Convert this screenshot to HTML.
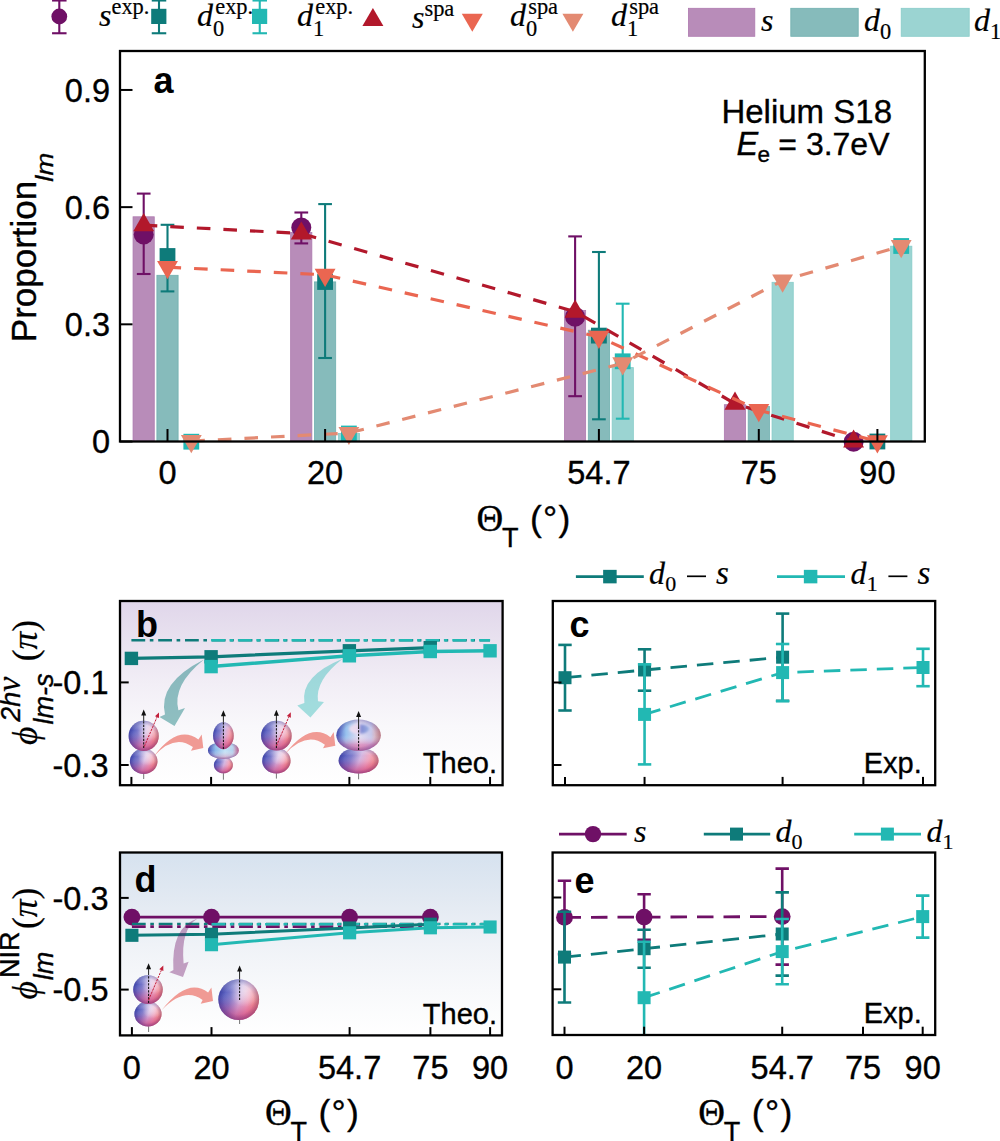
<!DOCTYPE html>
<html><head><meta charset="utf-8"><style>
html,body{margin:0;padding:0;background:#fff;overflow:hidden;}
svg{display:block;}
text{font-family:"Liberation Sans",sans-serif;fill:#000;stroke:#000;stroke-width:0.35px;}
.m,.s{font-family:"Liberation Serif",serif;}
.b{font-weight:bold;stroke:none;}
.m{stroke-width:0.2px;}
</style></head><body>
<svg width="1000" height="1141" viewBox="0 0 1000 1141">
<defs>
<linearGradient id="bgb" x1="0" y1="0" x2="0" y2="1">
 <stop offset="0" stop-color="#E0D6EA"/><stop offset="0.2" stop-color="#E8E1EF"/><stop offset="0.45" stop-color="#F2EEF6"/><stop offset="0.68" stop-color="#F9F8FB"/><stop offset="1" stop-color="#FFFFFF"/>
</linearGradient>
<linearGradient id="bgd" x1="0" y1="0" x2="0" y2="1">
 <stop offset="0" stop-color="#D6E2EF"/><stop offset="0.25" stop-color="#E2E9F2"/><stop offset="0.5" stop-color="#EFF2F7"/><stop offset="0.75" stop-color="#F8F9FB"/><stop offset="1" stop-color="#FFFFFF"/>
</linearGradient>
<linearGradient id="sph" x1="0" y1="0.25" x2="1" y2="0.75">
 <stop offset="0" stop-color="#4A52B4"/><stop offset="0.4" stop-color="#A77CC0"/><stop offset="0.72" stop-color="#E2668A"/><stop offset="1" stop-color="#EE8A6A"/>
</linearGradient>
<radialGradient id="hl" cx="0.64" cy="0.32" r="0.5">
 <stop offset="0" stop-color="#FFFFFF" stop-opacity="0.85"/><stop offset="0.6" stop-color="#FFFFFF" stop-opacity="0.25"/><stop offset="1" stop-color="#FFFFFF" stop-opacity="0"/>
</radialGradient>
<radialGradient id="tor" cx="0.5" cy="0.35" r="0.6">
 <stop offset="0" stop-color="#E8F2FA"/><stop offset="0.5" stop-color="#A8CFEA"/><stop offset="1" stop-color="#5068C0"/>
</radialGradient>
<radialGradient id="hole" cx="0.5" cy="0.5" r="0.5">
 <stop offset="0" stop-color="#F3D3E3"/><stop offset="1" stop-color="#F3D3E3" stop-opacity="0"/>
</radialGradient>

<linearGradient id="gH" x1="0" y1="0.38" x2="1" y2="0.62">
 <stop offset="0" stop-color="#3C4AB6"/><stop offset="0.3" stop-color="#7E7CCC"/><stop offset="0.52" stop-color="#D2B6E2"/><stop offset="0.72" stop-color="#F0A8C0"/><stop offset="1" stop-color="#EE7A6C"/>
</linearGradient>
<linearGradient id="gV" x1="0" y1="0" x2="0" y2="1">
 <stop offset="0" stop-color="#C8DCF6" stop-opacity="0.5"/><stop offset="0.32" stop-color="#FFFFFF" stop-opacity="0"/><stop offset="0.6" stop-color="#D02870" stop-opacity="0.15"/><stop offset="1" stop-color="#B8185C" stop-opacity="0.65"/>
</linearGradient>
<radialGradient id="gE" cx="0.5" cy="0.5" r="0.5">
 <stop offset="0.72" stop-color="#3C2C80" stop-opacity="0"/><stop offset="1" stop-color="#3C2C80" stop-opacity="0.3"/>
</radialGradient>
<radialGradient id="hlt" cx="0.66" cy="0.3" r="0.38">
 <stop offset="0" stop-color="#FFFFFF" stop-opacity="0.5"/><stop offset="1" stop-color="#FFFFFF" stop-opacity="0"/>
</radialGradient>
<linearGradient id="tH" x1="0" y1="0" x2="1" y2="0">
 <stop offset="0" stop-color="#4656BE"/><stop offset="0.25" stop-color="#8CBCEA"/><stop offset="0.55" stop-color="#C4E2F6"/><stop offset="0.8" stop-color="#B4D2EE"/><stop offset="1" stop-color="#E47494"/>
</linearGradient>
<linearGradient id="tV" x1="0" y1="0" x2="0" y2="1">
 <stop offset="0" stop-color="#FFFFFF" stop-opacity="0.2"/><stop offset="0.5" stop-color="#FFFFFF" stop-opacity="0"/><stop offset="1" stop-color="#D85088" stop-opacity="0.55"/>
</linearGradient>
<linearGradient id="uH" x1="0" y1="0" x2="1" y2="0">
 <stop offset="0" stop-color="#4A58C0"/><stop offset="0.22" stop-color="#98C2EE"/><stop offset="0.5" stop-color="#E4DEF2"/><stop offset="0.78" stop-color="#C6C8EC"/><stop offset="1" stop-color="#EC9C8C"/>
</linearGradient>
<linearGradient id="uV" x1="0" y1="0" x2="0" y2="1">
 <stop offset="0" stop-color="#FFFFFF" stop-opacity="0"/><stop offset="0.5" stop-color="#FFFFFF" stop-opacity="0"/><stop offset="0.8" stop-color="#D84088" stop-opacity="0.42"/><stop offset="1" stop-color="#C03078" stop-opacity="0.62"/>
</linearGradient>
<filter id="blur1" x="-30%" y="-30%" width="160%" height="160%"><feGaussianBlur stdDeviation="1.1"/></filter>
<linearGradient id="dim" x1="0" y1="0" x2="1" y2="0">
 <stop offset="0" stop-color="#F7E2F0"/><stop offset="0.45" stop-color="#F0D8EE"/><stop offset="0.6" stop-color="#6C78CC"/><stop offset="1" stop-color="#8CA8E0"/>
</linearGradient>
<clipPath id="clipb"><rect x="120" y="601" width="382.6" height="184.2"/></clipPath>
<clipPath id="clipc"><rect x="552.8" y="601" width="382.4" height="184.2"/></clipPath>
<clipPath id="clipd"><rect x="120" y="852.5" width="382" height="182.9"/></clipPath>
<clipPath id="clipe"><rect x="552.6" y="852.5" width="382.6" height="182.5"/></clipPath>
</defs>
<rect x="133.05" y="216.8" width="21.2" height="224.7" fill="#B88CB9" stroke="#AE7AAF" stroke-width="0.8"/>
<rect x="156.9" y="275.3" width="21.2" height="166.2" fill="#86BBBB" stroke="#6FB0AF" stroke-width="0.8"/>
<rect x="290.65" y="232.4" width="21.2" height="209.1" fill="#B88CB9" stroke="#AE7AAF" stroke-width="0.8"/>
<rect x="314.5" y="281.9" width="21.2" height="159.6" fill="#86BBBB" stroke="#6FB0AF" stroke-width="0.8"/>
<rect x="338.35" y="433.4" width="21.2" height="8.1" fill="#9BD4D2" stroke="#88CCC9" stroke-width="0.8"/>
<rect x="564.45" y="310.4" width="21.2" height="131.1" fill="#B88CB9" stroke="#AE7AAF" stroke-width="0.8"/>
<rect x="588.3" y="330.2" width="21.2" height="111.3" fill="#86BBBB" stroke="#6FB0AF" stroke-width="0.8"/>
<rect x="612.15" y="367.6" width="21.2" height="73.9" fill="#9BD4D2" stroke="#88CCC9" stroke-width="0.8"/>
<rect x="724.35" y="404.7" width="21.2" height="36.8" fill="#B88CB9" stroke="#AE7AAF" stroke-width="0.8"/>
<rect x="748.2" y="406.4" width="21.2" height="35.1" fill="#86BBBB" stroke="#6FB0AF" stroke-width="0.8"/>
<rect x="772.05" y="282.3" width="21.2" height="159.2" fill="#9BD4D2" stroke="#88CCC9" stroke-width="0.8"/>
<rect x="890.65" y="246.2" width="21.2" height="195.3" fill="#9BD4D2" stroke="#88CCC9" stroke-width="0.8"/>
<line x1="143.7" y1="193.6" x2="143.7" y2="274" stroke="#6F1066" stroke-width="2.1" />
<line x1="136.85" y1="193.6" x2="150.55" y2="193.6" stroke="#6F1066" stroke-width="2.1" />
<line x1="136.85" y1="274" x2="150.55" y2="274" stroke="#6F1066" stroke-width="2.1" />
<circle cx="143.7" cy="234.4" r="10" fill="#6F1066"/>
<line x1="301.3" y1="212.5" x2="301.3" y2="243.4" stroke="#6F1066" stroke-width="2.1" />
<line x1="294.45" y1="212.5" x2="308.15" y2="212.5" stroke="#6F1066" stroke-width="2.1" />
<line x1="294.45" y1="243.4" x2="308.15" y2="243.4" stroke="#6F1066" stroke-width="2.1" />
<circle cx="301.3" cy="227.5" r="10" fill="#6F1066"/>
<line x1="575.1" y1="236.4" x2="575.1" y2="396.2" stroke="#6F1066" stroke-width="2.1" />
<line x1="568.25" y1="236.4" x2="581.95" y2="236.4" stroke="#6F1066" stroke-width="2.1" />
<line x1="568.25" y1="396.2" x2="581.95" y2="396.2" stroke="#6F1066" stroke-width="2.1" />
<circle cx="575.1" cy="316.7" r="10" fill="#6F1066"/>
<circle cx="853.6" cy="441.8" r="10" fill="#6F1066"/>
<line x1="167.5" y1="224.8" x2="167.5" y2="291.4" stroke="#0E7B7A" stroke-width="2.1" />
<line x1="160.65" y1="224.8" x2="174.35" y2="224.8" stroke="#0E7B7A" stroke-width="2.1" />
<line x1="160.65" y1="291.4" x2="174.35" y2="291.4" stroke="#0E7B7A" stroke-width="2.1" />
<rect x="159.6" y="248.1" width="15.8" height="15.8" fill="#0E7B7A"/>
<line x1="325.1" y1="204.1" x2="325.1" y2="358" stroke="#0E7B7A" stroke-width="2.1" />
<line x1="318.25" y1="204.1" x2="331.95" y2="204.1" stroke="#0E7B7A" stroke-width="2.1" />
<line x1="318.25" y1="358" x2="331.95" y2="358" stroke="#0E7B7A" stroke-width="2.1" />
<rect x="317.2" y="274.1" width="15.8" height="15.8" fill="#0E7B7A"/>
<line x1="598.9" y1="252" x2="598.9" y2="419.3" stroke="#0E7B7A" stroke-width="2.1" />
<line x1="592.05" y1="252" x2="605.75" y2="252" stroke="#0E7B7A" stroke-width="2.1" />
<line x1="592.05" y1="419.3" x2="605.75" y2="419.3" stroke="#0E7B7A" stroke-width="2.1" />
<rect x="591" y="327.7" width="15.8" height="15.8" fill="#0E7B7A"/>
<rect x="869.5" y="433.6" width="15.8" height="15.8" fill="#0E7B7A"/>
<rect x="183.4" y="433.8" width="15.8" height="15.8" fill="#22B8B3"/>
<rect x="341" y="425.6" width="15.8" height="15.8" fill="#22B8B3"/>
<line x1="622.7" y1="303.7" x2="622.7" y2="418.7" stroke="#22B8B3" stroke-width="2.1" />
<line x1="615.85" y1="303.7" x2="629.55" y2="303.7" stroke="#22B8B3" stroke-width="2.1" />
<line x1="615.85" y1="418.7" x2="629.55" y2="418.7" stroke="#22B8B3" stroke-width="2.1" />
<rect x="614.8" y="353.4" width="15.8" height="15.8" fill="#22B8B3"/>
<rect x="893.3" y="238.1" width="15.8" height="15.8" fill="#22B8B3"/>
<polyline points="143.7,225.2 301.3,233.5 575.1,311.6 735,403.6 853.6,441.5" fill="none" stroke="#B2182B" stroke-width="3.2" stroke-dasharray="13.6 13" stroke-linejoin="round" />
<polygon points="143.7,213.1 154.15,231.3 133.25,231.3" fill="#B2182B"/>
<polygon points="301.3,221.4 311.75,239.6 290.85,239.6" fill="#B2182B"/>
<polygon points="575.1,299.5 585.55,317.7 564.65,317.7" fill="#B2182B"/>
<polygon points="735,391.5 745.45,409.7 724.55,409.7" fill="#B2182B"/>
<polygon points="853.6,429.4 864.05,447.6 843.15,447.6" fill="#B2182B"/>
<polyline points="167.5,267.2 325.1,274.8 598.9,336.9 758.8,410.2 877.4,441.4" fill="none" stroke="#EA6651" stroke-width="3.2" stroke-dasharray="13.6 13" stroke-linejoin="round" />
<polygon points="167.5,279.3 177.95,261.1 157.05,261.1" fill="#EA6651"/>
<polygon points="325.1,286.9 335.55,268.7 314.65,268.7" fill="#EA6651"/>
<polygon points="598.9,349 609.35,330.8 588.45,330.8" fill="#EA6651"/>
<polygon points="758.8,422.3 769.25,404.1 748.35,404.1" fill="#EA6651"/>
<polygon points="877.4,453.5 887.85,435.3 866.95,435.3" fill="#EA6651"/>
<polyline points="191.3,441.1 348.9,433 622.7,363.4 782.6,280.6 901.2,246.1" fill="none" stroke="#E38A72" stroke-width="3.2" stroke-dasharray="13.6 13" stroke-linejoin="round" />
<polygon points="191.3,453.2 201.75,435 180.85,435" fill="#E38A72"/>
<polygon points="348.9,445.1 359.35,426.9 338.45,426.9" fill="#E38A72"/>
<polygon points="622.7,375.5 633.15,357.3 612.25,357.3" fill="#E38A72"/>
<polygon points="782.6,292.7 793.05,274.5 772.15,274.5" fill="#E38A72"/>
<polygon points="901.2,258.2 911.65,240 890.75,240" fill="#E38A72"/>
<rect x="120" y="51" width="804.8" height="390.5" fill="none" stroke="#000" stroke-width="2.3"/>
<line x1="120" y1="89.96" x2="132.5" y2="89.96" stroke="#000" stroke-width="2" />
<text x="110" y="101.76" font-size="32.5" text-anchor="end" >0.9</text>
<line x1="120" y1="207.14" x2="132.5" y2="207.14" stroke="#000" stroke-width="2" />
<text x="110" y="218.94" font-size="32.5" text-anchor="end" >0.6</text>
<line x1="120" y1="324.32" x2="132.5" y2="324.32" stroke="#000" stroke-width="2" />
<text x="110" y="336.12" font-size="32.5" text-anchor="end" >0.3</text>
<line x1="120" y1="441.5" x2="132.5" y2="441.5" stroke="#000" stroke-width="2" />
<text x="110" y="453.3" font-size="32.5" text-anchor="end" >0</text>
<line x1="167.5" y1="441.5" x2="167.5" y2="429" stroke="#000" stroke-width="2" />
<text x="167.5" y="484.3" font-size="32.5" text-anchor="middle" >0</text>
<line x1="325.1" y1="441.5" x2="325.1" y2="429" stroke="#000" stroke-width="2" />
<text x="325.1" y="484.3" font-size="32.5" text-anchor="middle" >20</text>
<line x1="598.9" y1="441.5" x2="598.9" y2="429" stroke="#000" stroke-width="2" />
<text x="598.9" y="484.3" font-size="32.5" text-anchor="middle" >54.7</text>
<line x1="758.8" y1="441.5" x2="758.8" y2="429" stroke="#000" stroke-width="2" />
<text x="758.8" y="484.3" font-size="32.5" text-anchor="middle" >75</text>
<line x1="877.4" y1="441.5" x2="877.4" y2="429" stroke="#000" stroke-width="2" />
<text x="877.4" y="484.3" font-size="32.5" text-anchor="middle" >90</text>
<text x="153.5" y="93" font-size="36" class="b" >a</text>
<text x="892" y="122.8" font-size="33" text-anchor="end" >Helium S18</text>
<text x="889.5" y="154.8" font-size="32" text-anchor="end">= 3.7eV</text><text x="736.5" y="154.8" font-size="32.5" font-style="italic">E</text><text x="757.5" y="162" font-size="22.5">e</text>
<g transform="translate(36.2,342.2) rotate(-90)"><text x="0" y="0" font-size="35">Proportion</text><text x="160.5" y="17" font-size="24.5" font-style="italic" textLength="29" lengthAdjust="spacingAndGlyphs">lm</text></g>
<text x="476.5" y="530.6" font-size="37" class="s">&#920;</text><text x="502.0" y="547.1" font-size="27">T</text><text x="530.0" y="530.6" font-size="35.5" letter-spacing="1.3">(&#176;)</text>
<line x1="59.3" y1="0.5" x2="59.3" y2="33.25" stroke="#6F1066" stroke-width="2.1" />
<line x1="52.05" y1="0.5" x2="66.55" y2="0.5" stroke="#6F1066" stroke-width="2.1" />
<line x1="52.05" y1="33.25" x2="66.55" y2="33.25" stroke="#6F1066" stroke-width="2.1" />
<circle cx="59.3" cy="16.5" r="7.9" fill="#6F1066"/>
<line x1="159" y1="0.5" x2="159" y2="33.25" stroke="#0E7B7A" stroke-width="2.1" />
<line x1="151.75" y1="0.5" x2="166.25" y2="0.5" stroke="#0E7B7A" stroke-width="2.1" />
<line x1="151.75" y1="33.25" x2="166.25" y2="33.25" stroke="#0E7B7A" stroke-width="2.1" />
<rect x="151.2" y="8.8" width="15.2" height="15.2" fill="#0E7B7A"/>
<line x1="259.75" y1="0.5" x2="259.75" y2="33.25" stroke="#22B8B3" stroke-width="2.1" />
<line x1="252.5" y1="0.5" x2="267" y2="0.5" stroke="#22B8B3" stroke-width="2.1" />
<line x1="252.5" y1="33.25" x2="267" y2="33.25" stroke="#22B8B3" stroke-width="2.1" />
<rect x="252" y="8.8" width="15.2" height="15.2" fill="#22B8B3"/>
<polygon points="372.9,7.9 383.4,25.9 362.4,25.9" fill="#B2182B"/>
<polygon points="472.3,31.75 482.8,13.75 461.8,13.75" fill="#EA6651"/>
<polygon points="572.9,31.75 583.4,13.75 562.4,13.75" fill="#E38A72"/>
<rect x="688.4" y="8.3" width="66.4" height="28" fill="#B88CB9" stroke="#AE7AAF" stroke-width="0.8"/>
<rect x="790.8" y="8.3" width="67.4" height="28" fill="#86BBBB" stroke="#6FB0AF" stroke-width="0.8"/>
<rect x="901.2" y="8.3" width="68" height="28" fill="#9BD4D2" stroke="#88CCC9" stroke-width="0.8"/>
<text x="99" y="26" font-size="32" class="m"><tspan font-style="italic">s</tspan><tspan font-size="22.4" dy="-12">exp.</tspan></text>
<text x="197" y="26" font-size="32" class="m"><tspan font-style="italic">d</tspan><tspan font-size="22.4" dy="10">0</tspan><tspan font-size="22.4" dx="-9" dy="-22">exp.</tspan></text>
<text x="297" y="26" font-size="32" class="m"><tspan font-style="italic">d</tspan><tspan font-size="22.4" dy="10">1</tspan><tspan font-size="22.4" dx="-9" dy="-22">exp.</tspan></text>
<text x="412" y="27.5" font-size="32" class="m"><tspan font-style="italic">s</tspan><tspan font-size="22.4" dy="-12">spa</tspan></text>
<text x="510" y="26" font-size="32" class="m"><tspan font-style="italic">d</tspan><tspan font-size="22.4" dy="10">0</tspan><tspan font-size="22.4" dx="-9" dy="-22">spa</tspan></text>
<text x="611" y="26" font-size="32" class="m"><tspan font-style="italic">d</tspan><tspan font-size="22.4" dy="10">1</tspan><tspan font-size="22.4" dx="-9" dy="-22">spa</tspan></text>
<text x="761" y="30.7" font-size="32" class="m"><tspan font-style="italic">s</tspan></text>
<text x="864" y="30.5" font-size="32" class="m"><tspan font-style="italic">d</tspan><tspan font-size="22.4" dy="8">0</tspan></text>
<text x="974" y="30.5" font-size="32" class="m"><tspan font-style="italic">d</tspan><tspan font-size="22.4" dy="8">1</tspan></text>
<rect x="120" y="601" width="382.6" height="184.2" fill="url(#bgb)"/>
<polyline points="131.4,640.3 490.05,640.3" fill="none" stroke="#0E7B7A" stroke-width="2.6" stroke-dasharray="13.8 4.6 3.6 4.8" stroke-linejoin="round" />
<polyline points="211.1,640.3 490.05,640.3" fill="none" stroke="#22B8B3" stroke-width="2.6" stroke-dasharray="13.8 4.6 3.6 4.8" stroke-linejoin="round" />
<polyline points="131.4,658.4 211.1,656.8 349.38,650.8 430.27,647.7" fill="none" stroke="#0E7B7A" stroke-width="3.3" stroke-linejoin="round" />
<rect x="124.7" y="651.7" width="13.4" height="13.4" fill="#0E7B7A"/>
<rect x="204.4" y="650.1" width="13.4" height="13.4" fill="#0E7B7A"/>
<rect x="342.68" y="644.1" width="13.4" height="13.4" fill="#0E7B7A"/>
<rect x="423.57" y="641" width="13.4" height="13.4" fill="#0E7B7A"/>
<polyline points="211.1,666.6 349.38,655.8 430.27,651.5 490.05,650.8" fill="none" stroke="#22B8B3" stroke-width="3.5" stroke-linejoin="round" />
<rect x="204.4" y="659.9" width="13.4" height="13.4" fill="#22B8B3"/>
<rect x="342.68" y="649.1" width="13.4" height="13.4" fill="#22B8B3"/>
<rect x="423.57" y="644.8" width="13.4" height="13.4" fill="#22B8B3"/>
<rect x="483.35" y="644.1" width="13.4" height="13.4" fill="#22B8B3"/>
<g clip-path="url(#clipb)">
<path d="M 204.00 659.50 Q 157.50 683.00 165.00 714.50 L 159.50 717.00 L 174.50 726.10 L 185.00 707.90 L 178.40 710.30 Q 172.00 685.10 204.00 659.50 Z" fill="#0E7B7A" fill-opacity="0.45"/>
<path d="M 342.70 658.70 Q 300.00 676.00 304.40 702.90 L 297.30 705.50 L 310.40 717.40 L 324.00 702.00 L 318.00 701.20 Q 315.00 680.00 342.70 658.70 Z" fill="#22B8B3" fill-opacity="0.4"/>
<line x1="143.70" y1="779.00" x2="143.70" y2="748.00" stroke="#666" stroke-width="0.9"/>
<ellipse cx="143.70" cy="761.30" rx="13.80" ry="12.60" fill="url(#gH)"/>
<ellipse cx="143.70" cy="761.30" rx="13.80" ry="12.60" fill="url(#gV)"/>
<ellipse cx="143.70" cy="761.30" rx="13.80" ry="12.60" fill="url(#hlt)"/>
<ellipse cx="143.70" cy="761.30" rx="13.80" ry="12.60" fill="url(#gE)"/>
<ellipse cx="143.70" cy="735.90" rx="15.10" ry="15.10" fill="url(#gH)"/>
<ellipse cx="143.70" cy="735.90" rx="15.10" ry="15.10" fill="url(#gV)"/>
<ellipse cx="143.70" cy="735.90" rx="15.10" ry="15.10" fill="url(#hlt)"/>
<ellipse cx="143.70" cy="735.90" rx="15.10" ry="15.10" fill="url(#gE)"/>
<line x1="143.70" y1="748.00" x2="143.70" y2="721.00" stroke="#111" stroke-width="1.05" stroke-dasharray="2.2 1.3"/>
<line x1="143.70" y1="721.00" x2="143.70" y2="714.60" stroke="#222" stroke-width="1"/>
<polygon points="143.70,709.60 146.20,715.60 141.20,715.60" fill="#111"/>
<line x1="144.30" y1="746.50" x2="157.02" y2="717.09" stroke="#C21F3A" stroke-width="1" stroke-dasharray="2.4 1"/>
<polygon points="159.00,712.50 159.04,717.96 155.00,716.22" fill="#C21F3A"/>
<line x1="223.40" y1="779.70" x2="223.40" y2="760.00" stroke="#666" stroke-width="0.9"/>
<path d="M 223.40 756.70 C 228.65 756.70 232.90 760.42 232.90 765.00 C 232.90 769.98 227.96 773.30 223.40 773.30 C 218.84 773.30 213.90 769.98 213.90 765.00 C 213.90 760.42 218.15 756.70 223.40 756.70 Z" fill="url(#gH)"/>
<path d="M 223.40 756.70 C 228.65 756.70 232.90 760.42 232.90 765.00 C 232.90 769.98 227.96 773.30 223.40 773.30 C 218.84 773.30 213.90 769.98 213.90 765.00 C 213.90 760.42 218.15 756.70 223.40 756.70 Z" fill="url(#gV)"/>
<path d="M 223.40 756.70 C 228.65 756.70 232.90 760.42 232.90 765.00 C 232.90 769.98 227.96 773.30 223.40 773.30 C 218.84 773.30 213.90 769.98 213.90 765.00 C 213.90 760.42 218.15 756.70 223.40 756.70 Z" fill="url(#gE)"/>
<ellipse cx="223.40" cy="750.40" rx="15.40" ry="8.60" fill="url(#tH)"/>
<ellipse cx="223.40" cy="750.40" rx="15.40" ry="8.60" fill="url(#tV)"/>
<ellipse cx="223.40" cy="750.40" rx="15.40" ry="8.60" fill="url(#gE)"/>
<path d="M 223.40 722.20 C 229.12 722.20 233.75 728.24 233.75 735.70 C 233.75 743.80 227.75 749.20 223.40 749.20 C 219.05 749.20 213.05 743.80 213.05 735.70 C 213.05 728.24 217.68 722.20 223.40 722.20 Z" fill="url(#gH)"/>
<path d="M 223.40 722.20 C 229.12 722.20 233.75 728.24 233.75 735.70 C 233.75 743.80 227.75 749.20 223.40 749.20 C 219.05 749.20 213.05 743.80 213.05 735.70 C 213.05 728.24 217.68 722.20 223.40 722.20 Z" fill="url(#gV)"/>
<path d="M 223.40 722.20 C 229.12 722.20 233.75 728.24 233.75 735.70 C 233.75 743.80 227.75 749.20 223.40 749.20 C 219.05 749.20 213.05 743.80 213.05 735.70 C 213.05 728.24 217.68 722.20 223.40 722.20 Z" fill="url(#gE)"/>
<line x1="223.40" y1="749.00" x2="223.40" y2="722.50" stroke="#111" stroke-width="1.05" stroke-dasharray="2.2 1.3"/>
<line x1="223.40" y1="722.50" x2="223.40" y2="715.30" stroke="#222" stroke-width="1"/>
<polygon points="223.40,710.30 225.90,716.30 220.90,716.30" fill="#111"/>
<line x1="276.40" y1="778.60" x2="276.40" y2="748.00" stroke="#666" stroke-width="0.9"/>
<ellipse cx="276.40" cy="760.80" rx="14.20" ry="12.70" fill="url(#gH)"/>
<ellipse cx="276.40" cy="760.80" rx="14.20" ry="12.70" fill="url(#gV)"/>
<ellipse cx="276.40" cy="760.80" rx="14.20" ry="12.70" fill="url(#hlt)"/>
<ellipse cx="276.40" cy="760.80" rx="14.20" ry="12.70" fill="url(#gE)"/>
<ellipse cx="276.40" cy="735.70" rx="15.30" ry="14.90" fill="url(#gH)"/>
<ellipse cx="276.40" cy="735.70" rx="15.30" ry="14.90" fill="url(#gV)"/>
<ellipse cx="276.40" cy="735.70" rx="15.30" ry="14.90" fill="url(#hlt)"/>
<ellipse cx="276.40" cy="735.70" rx="15.30" ry="14.90" fill="url(#gE)"/>
<line x1="276.40" y1="748.00" x2="276.40" y2="721.00" stroke="#111" stroke-width="1.05" stroke-dasharray="2.2 1.3"/>
<line x1="276.40" y1="721.00" x2="276.40" y2="714.70" stroke="#222" stroke-width="1"/>
<polygon points="276.40,709.70 278.90,715.70 273.90,715.70" fill="#111"/>
<line x1="276.40" y1="746.00" x2="288.84" y2="716.90" stroke="#C21F3A" stroke-width="1" stroke-dasharray="2.4 1"/>
<polygon points="290.80,712.30 290.86,717.76 286.81,716.03" fill="#C21F3A"/>
<line x1="358.60" y1="779.30" x2="358.60" y2="760.00" stroke="#666" stroke-width="0.9"/>
<ellipse cx="358.60" cy="760.50" rx="20.00" ry="13.10" fill="url(#gH)"/>
<ellipse cx="358.60" cy="760.50" rx="20.00" ry="13.10" fill="url(#gV)"/>
<ellipse cx="358.60" cy="760.50" rx="20.00" ry="13.10" fill="url(#gE)"/>
<ellipse cx="358.60" cy="735.20" rx="22.25" ry="15.75" fill="url(#uH)"/>
<ellipse cx="358.60" cy="735.20" rx="22.25" ry="15.75" fill="url(#uV)"/>
<ellipse cx="358.60" cy="735.20" rx="22.25" ry="15.75" fill="url(#gE)"/>
<ellipse cx="359.10" cy="729" rx="10" ry="4.8" fill="url(#dim)" opacity="0.8" filter="url(#blur1)"/>
<line x1="358.60" y1="750.00" x2="358.60" y2="727.00" stroke="#111" stroke-width="1.05" stroke-dasharray="2.2 1.3"/>
<line x1="358.60" y1="727.00" x2="358.60" y2="716.00" stroke="#222" stroke-width="1"/>
<polygon points="358.60,711.00 361.10,717.00 356.10,717.00" fill="#111"/>
<path d="M 153.90 756.20 Q 178.00 724.00 198.40 739.60 L 201.70 734.40 L 203.30 748.10 L 191.00 750.70 L 192.90 747.10 Q 174.60 733.35 153.90 756.20 Z" fill="#F09A94"/>
<path d="M 285.20 753.80 Q 310.00 721.60 330.40 737.20 L 333.70 732.00 L 335.30 745.70 L 323.00 748.30 L 324.90 744.70 Q 306.60 730.95 285.20 753.80 Z" fill="#F09A94"/>
</g>
<line x1="565" y1="644.9" x2="565" y2="710.5" stroke="#0E7B7A" stroke-width="2.6" />
<line x1="558.3" y1="644.9" x2="571.7" y2="644.9" stroke="#0E7B7A" stroke-width="2.6" />
<line x1="558.3" y1="710.5" x2="571.7" y2="710.5" stroke="#0E7B7A" stroke-width="2.6" />
<line x1="644.56" y1="649.3" x2="644.56" y2="690.7" stroke="#0E7B7A" stroke-width="2.6" />
<line x1="637.86" y1="649.3" x2="651.26" y2="649.3" stroke="#0E7B7A" stroke-width="2.6" />
<line x1="637.86" y1="690.7" x2="651.26" y2="690.7" stroke="#0E7B7A" stroke-width="2.6" />
<line x1="782.6" y1="613.6" x2="782.6" y2="700.8" stroke="#0E7B7A" stroke-width="2.6" />
<line x1="775.9" y1="613.6" x2="789.3" y2="613.6" stroke="#0E7B7A" stroke-width="2.6" />
<line x1="775.9" y1="700.8" x2="789.3" y2="700.8" stroke="#0E7B7A" stroke-width="2.6" />
<polyline points="565,677.7 644.56,670 782.6,657.2" fill="none" stroke="#0E7B7A" stroke-width="2.8" stroke-dasharray="16.5 10" stroke-linejoin="round" />
<rect x="558.5" y="671.2" width="13" height="13" fill="#0E7B7A"/>
<rect x="638.06" y="663.5" width="13" height="13" fill="#0E7B7A"/>
<rect x="776.1" y="650.7" width="13" height="13" fill="#0E7B7A"/>
<line x1="644.56" y1="664.4" x2="644.56" y2="764.4" stroke="#22B8B3" stroke-width="2.6" />
<line x1="637.86" y1="664.4" x2="651.26" y2="664.4" stroke="#22B8B3" stroke-width="2.6" />
<line x1="637.86" y1="764.4" x2="651.26" y2="764.4" stroke="#22B8B3" stroke-width="2.6" />
<line x1="782.6" y1="644" x2="782.6" y2="701.2" stroke="#22B8B3" stroke-width="2.6" />
<line x1="775.9" y1="644" x2="789.3" y2="644" stroke="#22B8B3" stroke-width="2.6" />
<line x1="775.9" y1="701.2" x2="789.3" y2="701.2" stroke="#22B8B3" stroke-width="2.6" />
<line x1="923.02" y1="648.8" x2="923.02" y2="686.2" stroke="#22B8B3" stroke-width="2.6" />
<line x1="916.32" y1="648.8" x2="929.72" y2="648.8" stroke="#22B8B3" stroke-width="2.6" />
<line x1="916.32" y1="686.2" x2="929.72" y2="686.2" stroke="#22B8B3" stroke-width="2.6" />
<polyline points="644.56,714.4 782.6,672.6 923.02,667.5" fill="none" stroke="#22B8B3" stroke-width="2.8" stroke-dasharray="16.5 10" stroke-linejoin="round" />
<rect x="638.06" y="707.9" width="13" height="13" fill="#22B8B3"/>
<rect x="776.1" y="666.1" width="13" height="13" fill="#22B8B3"/>
<rect x="916.52" y="661" width="13" height="13" fill="#22B8B3"/>
<rect x="120" y="852.5" width="382" height="182.9" fill="url(#bgd)"/>
<polyline points="131.9,917.1 430.4,917.1" fill="none" stroke="#6F1066" stroke-width="2.6" stroke-linejoin="round" />
<circle cx="131.9" cy="917.1" r="8.4" fill="#6F1066"/>
<circle cx="211.5" cy="917.1" r="8.4" fill="#6F1066"/>
<circle cx="349.61" cy="917.1" r="8.4" fill="#6F1066"/>
<circle cx="430.4" cy="917.1" r="8.4" fill="#6F1066"/>
<polyline points="131.9,926.6 430.4,926.6" fill="none" stroke="#6F1066" stroke-width="2.6" stroke-dasharray="13.8 4.6 3.6 4.8" stroke-linejoin="round" />
<polyline points="131.9,923.9 490.1,923.9" fill="none" stroke="#0E7B7A" stroke-width="2.2" stroke-dasharray="13.8 4.6 3.6 4.8" stroke-linejoin="round" />
<polyline points="211.5,924.2 490.1,924.2" fill="none" stroke="#22B8B3" stroke-width="2.4" stroke-dasharray="13.8 4.6 3.6 4.8" stroke-linejoin="round" />
<polyline points="131.9,935.3 211.5,934.3 349.61,928 430.4,924.2" fill="none" stroke="#0E7B7A" stroke-width="3" stroke-linejoin="round" />
<rect x="125.35" y="928.75" width="13.1" height="13.1" fill="#0E7B7A"/>
<rect x="204.95" y="927.75" width="13.1" height="13.1" fill="#0E7B7A"/>
<rect x="343.06" y="921.45" width="13.1" height="13.1" fill="#0E7B7A"/>
<rect x="423.85" y="917.65" width="13.1" height="13.1" fill="#0E7B7A"/>
<polyline points="211.5,944.7 349.61,932.8 430.4,927.8 490.1,927" fill="none" stroke="#22B8B3" stroke-width="3" stroke-linejoin="round" />
<rect x="204.95" y="938.15" width="13.1" height="13.1" fill="#22B8B3"/>
<rect x="343.06" y="926.25" width="13.1" height="13.1" fill="#22B8B3"/>
<rect x="423.85" y="921.25" width="13.1" height="13.1" fill="#22B8B3"/>
<rect x="483.55" y="920.45" width="13.1" height="13.1" fill="#22B8B3"/>
<g clip-path="url(#clipd)">
<path d="M 197.50 918.50 Q 171.00 927.00 173.40 970.00 L 169.35 972.15 L 183.00 977.00 L 188.60 961.65 L 183.60 963.60 Q 180.50 929.00 197.50 918.50 Z" fill="#6F1066" fill-opacity="0.38"/>
<line x1="148.60" y1="1032.00" x2="148.60" y2="1003.00" stroke="#666" stroke-width="0.9"/>
<ellipse cx="148.00" cy="1014.00" rx="13.60" ry="12.40" fill="url(#gH)"/>
<ellipse cx="148.00" cy="1014.00" rx="13.60" ry="12.40" fill="url(#gV)"/>
<ellipse cx="148.00" cy="1014.00" rx="13.60" ry="12.40" fill="url(#hlt)"/>
<ellipse cx="148.00" cy="1014.00" rx="13.60" ry="12.40" fill="url(#gE)"/>
<ellipse cx="148.00" cy="989.60" rx="14.80" ry="14.40" fill="url(#gH)"/>
<ellipse cx="148.00" cy="989.60" rx="14.80" ry="14.40" fill="url(#gV)"/>
<ellipse cx="148.00" cy="989.60" rx="14.80" ry="14.40" fill="url(#hlt)"/>
<ellipse cx="148.00" cy="989.60" rx="14.80" ry="14.40" fill="url(#gE)"/>
<line x1="148.60" y1="1003.00" x2="148.60" y2="975.00" stroke="#111" stroke-width="1.05" stroke-dasharray="2.2 1.3"/>
<line x1="148.60" y1="975.00" x2="148.60" y2="968.20" stroke="#222" stroke-width="1"/>
<polygon points="148.60,963.20 151.10,969.20 146.10,969.20" fill="#111"/>
<line x1="148.60" y1="1000.00" x2="161.34" y2="970.20" stroke="#C21F3A" stroke-width="1" stroke-dasharray="2.4 1"/>
<polygon points="163.30,965.60 163.36,971.06 159.31,969.33" fill="#C21F3A"/>
<line x1="239.60" y1="1024.00" x2="239.60" y2="1000.00" stroke="#666" stroke-width="0.9"/>
<ellipse cx="238.70" cy="999.60" rx="20.40" ry="20.40" fill="url(#gH)"/>
<ellipse cx="238.70" cy="999.60" rx="20.40" ry="20.40" fill="url(#gV)"/>
<ellipse cx="238.70" cy="999.60" rx="20.40" ry="20.40" fill="url(#hlt)"/>
<ellipse cx="238.70" cy="999.60" rx="20.40" ry="20.40" fill="url(#gE)"/>
<line x1="239.60" y1="1000.00" x2="239.60" y2="979.50" stroke="#111" stroke-width="1.05" stroke-dasharray="2.2 1.3"/>
<line x1="239.60" y1="979.50" x2="239.60" y2="970.60" stroke="#222" stroke-width="1"/>
<polygon points="239.60,965.60 242.10,971.60 237.10,971.60" fill="#111"/>
<path d="M 161.65 1010.30 Q 187.70 977.00 208.10 992.60 L 211.40 987.40 L 213.00 1001.10 L 200.70 1003.70 L 202.60 1000.10 Q 184.30 986.35 161.65 1010.30 Z" fill="#F09A94"/>
</g>
<g clip-path="url(#clipe)">
<line x1="564.5" y1="880.7" x2="564.5" y2="954.1" stroke="#6F1066" stroke-width="2.6" />
<line x1="557.8" y1="880.7" x2="571.2" y2="880.7" stroke="#6F1066" stroke-width="2.6" />
<line x1="557.8" y1="954.1" x2="571.2" y2="954.1" stroke="#6F1066" stroke-width="2.6" />
<line x1="644.1" y1="894.3" x2="644.1" y2="939.9" stroke="#6F1066" stroke-width="2.6" />
<line x1="637.4" y1="894.3" x2="650.8" y2="894.3" stroke="#6F1066" stroke-width="2.6" />
<line x1="637.4" y1="939.9" x2="650.8" y2="939.9" stroke="#6F1066" stroke-width="2.6" />
<line x1="782.21" y1="868.6" x2="782.21" y2="964.6" stroke="#6F1066" stroke-width="2.6" />
<line x1="775.51" y1="868.6" x2="788.91" y2="868.6" stroke="#6F1066" stroke-width="2.6" />
<line x1="775.51" y1="964.6" x2="788.91" y2="964.6" stroke="#6F1066" stroke-width="2.6" />
<polyline points="564.5,917.4 644.1,917.1 782.21,916.6" fill="none" stroke="#6F1066" stroke-width="2.8" stroke-dasharray="16.5 10" stroke-linejoin="round" />
<circle cx="564.5" cy="917.4" r="8.4" fill="#6F1066"/>
<circle cx="644.1" cy="917.1" r="8.4" fill="#6F1066"/>
<circle cx="782.21" cy="916.6" r="8.4" fill="#6F1066"/>
<line x1="564.5" y1="911.7" x2="564.5" y2="1002.5" stroke="#0E7B7A" stroke-width="2.6" />
<line x1="557.8" y1="911.7" x2="571.2" y2="911.7" stroke="#0E7B7A" stroke-width="2.6" />
<line x1="557.8" y1="1002.5" x2="571.2" y2="1002.5" stroke="#0E7B7A" stroke-width="2.6" />
<line x1="644.1" y1="929.7" x2="644.1" y2="967.7" stroke="#0E7B7A" stroke-width="2.6" />
<line x1="637.4" y1="929.7" x2="650.8" y2="929.7" stroke="#0E7B7A" stroke-width="2.6" />
<line x1="637.4" y1="967.7" x2="650.8" y2="967.7" stroke="#0E7B7A" stroke-width="2.6" />
<line x1="782.21" y1="892.4" x2="782.21" y2="975.6" stroke="#0E7B7A" stroke-width="2.6" />
<line x1="775.51" y1="892.4" x2="788.91" y2="892.4" stroke="#0E7B7A" stroke-width="2.6" />
<line x1="775.51" y1="975.6" x2="788.91" y2="975.6" stroke="#0E7B7A" stroke-width="2.6" />
<polyline points="564.5,957.1 644.1,948.7 782.21,934" fill="none" stroke="#0E7B7A" stroke-width="2.8" stroke-dasharray="16.5 10" stroke-linejoin="round" />
<rect x="558" y="950.6" width="13" height="13" fill="#0E7B7A"/>
<rect x="637.6" y="942.2" width="13" height="13" fill="#0E7B7A"/>
<rect x="775.71" y="927.5" width="13" height="13" fill="#0E7B7A"/>
<line x1="644.1" y1="941.7" x2="644.1" y2="1053.7" stroke="#22B8B3" stroke-width="2.6" />
<line x1="637.4" y1="941.7" x2="650.8" y2="941.7" stroke="#22B8B3" stroke-width="2.6" />
<line x1="637.4" y1="1053.7" x2="650.8" y2="1053.7" stroke="#22B8B3" stroke-width="2.6" />
<line x1="782.21" y1="919" x2="782.21" y2="984.2" stroke="#22B8B3" stroke-width="2.6" />
<line x1="775.51" y1="919" x2="788.91" y2="919" stroke="#22B8B3" stroke-width="2.6" />
<line x1="775.51" y1="984.2" x2="788.91" y2="984.2" stroke="#22B8B3" stroke-width="2.6" />
<line x1="922.7" y1="895.6" x2="922.7" y2="937.6" stroke="#22B8B3" stroke-width="2.6" />
<line x1="916" y1="895.6" x2="929.4" y2="895.6" stroke="#22B8B3" stroke-width="2.6" />
<line x1="916" y1="937.6" x2="929.4" y2="937.6" stroke="#22B8B3" stroke-width="2.6" />
<polyline points="644.1,997.7 782.21,951.6 922.7,916.6" fill="none" stroke="#22B8B3" stroke-width="2.8" stroke-dasharray="16.5 10" stroke-linejoin="round" />
<rect x="637.6" y="991.2" width="13" height="13" fill="#22B8B3"/>
<rect x="775.71" y="945.1" width="13" height="13" fill="#22B8B3"/>
<rect x="916.2" y="910.1" width="13" height="13" fill="#22B8B3"/>
</g>
<rect x="120" y="601" width="382.6" height="184.2" fill="none" stroke="#000" stroke-width="2.3"/>
<line x1="120" y1="682.4" x2="128.7" y2="682.4" stroke="#000" stroke-width="2" />
<text x="108.5" y="694.2" font-size="32.5" text-anchor="end" >-0.1</text>
<line x1="120" y1="765" x2="128.7" y2="765" stroke="#000" stroke-width="2" />
<text x="108.5" y="776.8" font-size="32.5" text-anchor="end" >-0.3</text>
<line x1="131.4" y1="785.2" x2="131.4" y2="776.9" stroke="#000" stroke-width="2" />
<line x1="211.1" y1="785.2" x2="211.1" y2="776.9" stroke="#000" stroke-width="2" />
<line x1="349.38" y1="785.2" x2="349.38" y2="776.9" stroke="#000" stroke-width="2" />
<line x1="430.27" y1="785.2" x2="430.27" y2="776.9" stroke="#000" stroke-width="2" />
<line x1="490.05" y1="785.2" x2="490.05" y2="776.9" stroke="#000" stroke-width="2" />
<rect x="552.8" y="601" width="382.4" height="184.2" fill="none" stroke="#000" stroke-width="2.3"/>
<line x1="552.8" y1="682.5" x2="561.5" y2="682.5" stroke="#000" stroke-width="2" />
<line x1="552.8" y1="765" x2="561.5" y2="765" stroke="#000" stroke-width="2" />
<line x1="565" y1="785.2" x2="565" y2="776.9" stroke="#000" stroke-width="2" />
<line x1="644.56" y1="785.2" x2="644.56" y2="776.9" stroke="#000" stroke-width="2" />
<line x1="782.6" y1="785.2" x2="782.6" y2="776.9" stroke="#000" stroke-width="2" />
<line x1="863.35" y1="785.2" x2="863.35" y2="776.9" stroke="#000" stroke-width="2" />
<line x1="923.02" y1="785.2" x2="923.02" y2="776.9" stroke="#000" stroke-width="2" />
<rect x="120" y="852.5" width="382" height="182.9" fill="none" stroke="#000" stroke-width="2.3"/>
<line x1="120" y1="897.9" x2="128.7" y2="897.9" stroke="#000" stroke-width="2" />
<text x="108.5" y="909.7" font-size="32.5" text-anchor="end" >-0.3</text>
<line x1="120" y1="989.6" x2="128.7" y2="989.6" stroke="#000" stroke-width="2" />
<text x="108.5" y="1001.4" font-size="32.5" text-anchor="end" >-0.5</text>
<line x1="131.9" y1="1035.4" x2="131.9" y2="1027.1" stroke="#000" stroke-width="2" />
<line x1="211.5" y1="1035.4" x2="211.5" y2="1027.1" stroke="#000" stroke-width="2" />
<line x1="349.61" y1="1035.4" x2="349.61" y2="1027.1" stroke="#000" stroke-width="2" />
<line x1="430.4" y1="1035.4" x2="430.4" y2="1027.1" stroke="#000" stroke-width="2" />
<line x1="490.1" y1="1035.4" x2="490.1" y2="1027.1" stroke="#000" stroke-width="2" />
<rect x="552.6" y="852.5" width="382.6" height="182.5" fill="none" stroke="#000" stroke-width="2.3"/>
<line x1="552.6" y1="897.5" x2="561.3" y2="897.5" stroke="#000" stroke-width="2" />
<line x1="552.6" y1="989.3" x2="561.3" y2="989.3" stroke="#000" stroke-width="2" />
<line x1="564.5" y1="1035" x2="564.5" y2="1026.7" stroke="#000" stroke-width="2" />
<line x1="644.1" y1="1035" x2="644.1" y2="1026.7" stroke="#000" stroke-width="2" />
<line x1="782.21" y1="1035" x2="782.21" y2="1026.7" stroke="#000" stroke-width="2" />
<line x1="863" y1="1035" x2="863" y2="1026.7" stroke="#000" stroke-width="2" />
<line x1="922.7" y1="1035" x2="922.7" y2="1026.7" stroke="#000" stroke-width="2" />
<text x="136" y="636.8" font-size="36" class="b" >b</text>
<text x="569.5" y="637.2" font-size="36" class="b" >c</text>
<text x="134.5" y="892" font-size="36" class="b" >d</text>
<text x="574.5" y="892.6" font-size="36" class="b" >e</text>
<text x="497" y="773.4" font-size="29" text-anchor="end" >Theo.</text>
<text x="921.7" y="772.9" font-size="29" text-anchor="end" >Exp.</text>
<text x="497" y="1023.6" font-size="29" text-anchor="end" >Theo.</text>
<text x="921.7" y="1023.4" font-size="29" text-anchor="end" >Exp.</text>
<text x="131.9" y="1078.6" font-size="32.5" text-anchor="middle" >0</text>
<text x="211.5" y="1078.6" font-size="32.5" text-anchor="middle" >20</text>
<text x="349.61" y="1078.6" font-size="32.5" text-anchor="middle" >54.7</text>
<text x="430.4" y="1078.6" font-size="32.5" text-anchor="middle" >75</text>
<text x="490.1" y="1078.6" font-size="32.5" text-anchor="middle" >90</text>
<text x="564.5" y="1078.6" font-size="32.5" text-anchor="middle" >0</text>
<text x="644.1" y="1078.6" font-size="32.5" text-anchor="middle" >20</text>
<text x="782.21" y="1078.6" font-size="32.5" text-anchor="middle" >54.7</text>
<text x="863" y="1078.6" font-size="32.5" text-anchor="middle" >75</text>
<text x="922.7" y="1078.6" font-size="32.5" text-anchor="middle" >90</text>
<text x="265" y="1124.7" font-size="37" class="s">&#920;</text><text x="290.5" y="1141.2" font-size="27">T</text><text x="318.5" y="1124.7" font-size="35.5" letter-spacing="1.3">(&#176;)</text>
<text x="698.3" y="1124.7" font-size="37" class="s">&#920;</text><text x="723.8" y="1141.2" font-size="27">T</text><text x="751.8" y="1124.7" font-size="35.5" letter-spacing="1.3">(&#176;)</text>
<g transform="translate(36.5,745) rotate(-90)"><text x="0" y="0" font-size="35.5" class="m" font-style="italic">&#981;</text><text x="23.2" y="-17" font-size="27" font-style="italic">2h<tspan class="m" font-size="34">&#957;</tspan></text><text x="20.5" y="16.8" font-size="27" font-style="italic">lm-s</text><text x="83.7" y="0" font-size="35.5" class="m">(<tspan font-style="italic">&#960;</tspan>)</text></g>
<g transform="translate(36.5,999.5) rotate(-90)"><text x="0" y="0" font-size="35.5" class="m" font-style="italic">&#981;</text><text x="21.6" y="-17.1" font-size="27">NIR</text><text x="19.3" y="16.4" font-size="27" font-style="italic">lm</text><text x="70.5" y="0" font-size="35.5" class="m">(<tspan font-style="italic">&#960;</tspan>)</text></g>
<line x1="575.9" y1="576.6" x2="643.8" y2="576.6" stroke="#0E7B7A" stroke-width="2.9" />
<rect x="603.15" y="569.85" width="13.5" height="13.5" fill="#0E7B7A"/>
<text x="649" y="584" font-size="32" class="m" font-style="italic">d</text><text x="665.3" y="591" font-size="22" class="m">0</text><line x1="687" y1="576.3" x2="706" y2="576.3" stroke="#000" stroke-width="1.7"/><text x="716" y="584" font-size="33" class="m" font-style="italic">s</text>
<line x1="777" y1="576.6" x2="845" y2="576.6" stroke="#22B8B3" stroke-width="2.9" />
<rect x="803.85" y="569.85" width="13.5" height="13.5" fill="#22B8B3"/>
<text x="850.4" y="584" font-size="32" class="m" font-style="italic">d</text><text x="866.6999999999999" y="591" font-size="22" class="m">1</text><line x1="888.4" y1="576.3" x2="907.4" y2="576.3" stroke="#000" stroke-width="1.7"/><text x="917.4" y="584" font-size="33" class="m" font-style="italic">s</text>
<line x1="559" y1="834.1" x2="626.7" y2="834.1" stroke="#6F1066" stroke-width="2.9" />
<circle cx="593" cy="834.1" r="8.2" fill="#6F1066"/>
<text x="634" y="841.5" font-size="32" class="m" font-style="italic">s</text>
<line x1="703.8" y1="834.1" x2="770.2" y2="834.1" stroke="#0E7B7A" stroke-width="2.9" />
<rect x="730" y="827.6" width="13" height="13" fill="#0E7B7A"/>
<text x="775.5" y="841.5" font-size="32" class="m"><tspan font-style="italic">d</tspan><tspan font-size="22" dy="7">0</tspan></text>
<line x1="854.2" y1="834.1" x2="921" y2="834.1" stroke="#22B8B3" stroke-width="2.9" />
<rect x="880.9" y="827.6" width="13" height="13" fill="#22B8B3"/>
<text x="926.4" y="841.5" font-size="32" class="m"><tspan font-style="italic">d</tspan><tspan font-size="22" dy="7">1</tspan></text>
</svg></body></html>
